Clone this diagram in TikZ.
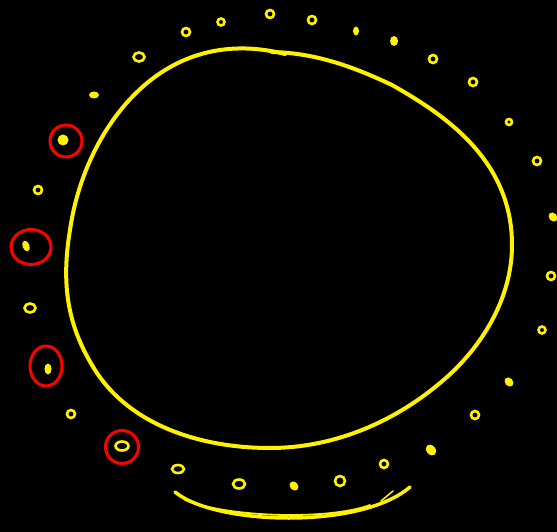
\documentclass[tikz,border=0pt]{standalone}
\usetikzlibrary{shapes.geometric}
\begin{document}
\begin{tikzpicture}[x=1pt,y=-1pt,
  bigline/.style={draw=yellow,line width=4pt,line cap=round,line join=round},
  ring/.style={circle,draw=yellow,line width=2.6pt,minimum size=8pt,inner sep=0pt},
  blob/.style={ellipse,fill=yellow,minimum width=8pt,minimum height=10pt,inner sep=0pt},
  redring/.style={circle,draw=red,line width=3pt,inner sep=0pt},
  arcline/.style={draw=yellow,line width=3.5pt,line cap=round}]
\path[fill=black] (0,0) rectangle (557,532);
\useasboundingbox (0,0) rectangle (557,532);
% big circle
\draw[bigline] (272,52) .. controls (320,53) and (360,70) .. (392,85)
  .. controls (445,115) and (512,160) .. (512,245)
  .. controls (512,300) and (480,350) .. (440,383)
  .. controls (390,425) and (330,448) .. (270,448)
  .. controls (200,448) and (130,425) .. (95,370)
  .. controls (70,330) and (60,290) .. (70,230)
  .. controls (80,160) and (120,90) .. (180,62)
  .. controls (210,48) and (245,44) .. (285,54);
% small marks
\node[ring] (d1) at (186,32) {};
\node[ring,minimum size=7pt] (d2) at (221,22) {};
\node[ring] (d3) at (270,14) {};
\node[ring] (d4) at (312,20) {};
\node[blob,minimum width=6pt,minimum height=9pt] (d5) at (356,31) {};
\node[blob] (d6) at (394,41) {};
\node[ring] (d7) at (433,59) {};
\node[ring] (d8) at (473,82) {};
\node[ring,minimum size=6pt] (d9) at (509,122) {};
\node[ring] (d10) at (537,161) {};
\node[blob,rotate=40] (d11) at (553,217) {};
\node[ring] (d12) at (551,276) {};
\node[ring,minimum size=7pt] (d13) at (542,330) {};
\node[blob,rotate=40] (d14) at (509,382) {};
\node[ring] (d15) at (475,415) {};
\node[blob,rotate=40,minimum width=9pt,minimum height=12pt] (d16) at (431,450) {};
\node[ring] (d17) at (384,464) {};
\node[ring,minimum size=10pt] (d18) at (340,481) {};
\node[blob,rotate=40] (d19) at (294,486) {};
\node[ring,minimum width=12pt,minimum height=9pt,ellipse] (d20) at (239,484) {};
\node[ring,ellipse,minimum width=12pt,minimum height=8pt] (d21) at (178,469) {};
\node[ring,ellipse,minimum width=13pt,minimum height=9pt] (d22) at (122,446) {};
\node[redring,minimum size=33pt] (r22) at (122,447) {};
\node[ring,minimum size=8pt] (d23) at (71,414) {};
\node[blob,minimum width=7pt,minimum height=11pt] (d24) at (48,369) {};
\node[redring,ellipse,minimum width=32pt,minimum height=40pt] (r24) at (46,366) {};
\node[ring,ellipse,minimum width=11pt,minimum height=9pt] (d25) at (30,308) {};
\node[blob,minimum width=7pt,minimum height=11pt,rotate=20] (d26) at (26,246) {};
\node[redring,ellipse,minimum width=40pt,minimum height=35pt] (r26) at (31,247) {};
\node[ring,minimum size=8pt] (d27) at (38,190) {};
\node[blob,minimum width=11pt,minimum height=11pt] (d28) at (63,140) {};
\node[redring,minimum size=32pt] (r28) at (66,141) {};
\node[blob,minimum width=10pt,minimum height=7pt] (d29) at (94,95) {};
\node[ring,ellipse,minimum width=11pt,minimum height=9pt] (d30) at (139,57) {};
% bottom arc
\coordinate (a1) at (175,492);
\coordinate (a2) at (410,487);
\draw[arcline] (a1) .. controls (215,525) and (360,530) .. (a2);
\draw[draw=yellow,line width=1.8pt,line cap=round] (185,500) .. controls (230,518) and (330,520) .. (370,505);
\draw[draw=yellow,line width=1.5pt,line cap=round] (381,501) -- (393,491);
\end{tikzpicture}
\end{document}
